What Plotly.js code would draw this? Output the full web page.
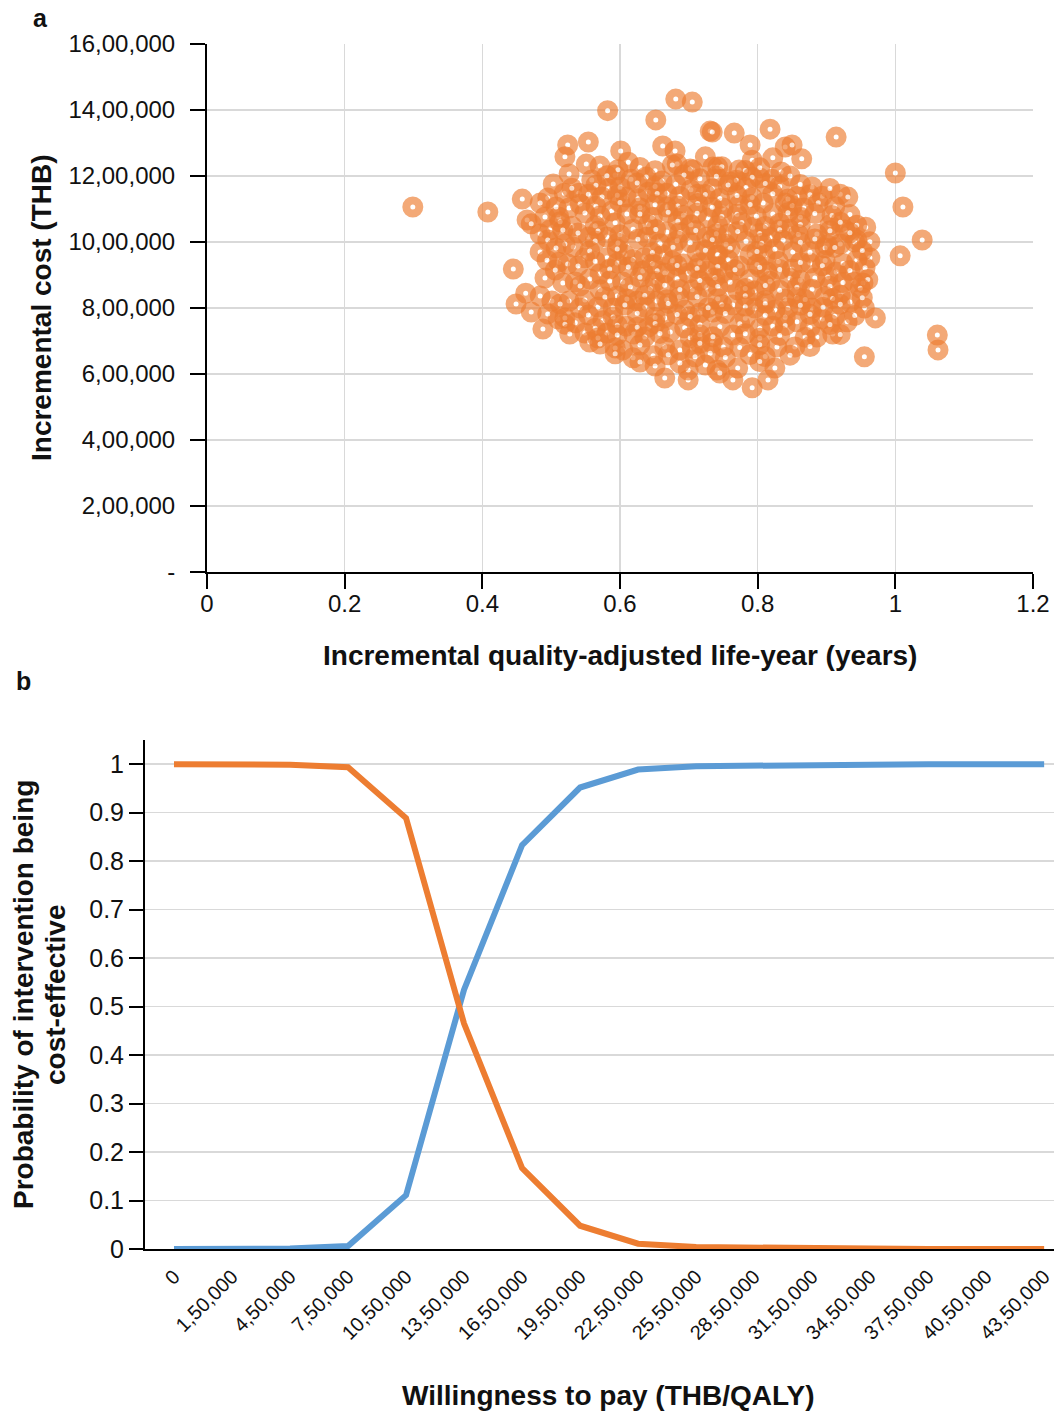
<!DOCTYPE html>
<html>
<head>
<meta charset="utf-8">
<script src="https://cdn.plot.ly/plotly-3.0.1.min.js"></script>
<style>
  html, body { margin: 0; padding: 0; background: #ffffff; }
  #chart { width: 1054px; height: 1414px; }
</style>
</head>
<body>
<div id="chart"></div>
<script>
// ---------- Panel a: cost-effectiveness plane ----------
const qalyTicks = [0, 0.2, 0.4, 0.6, 0.8, 1, 1.2];
const qalyTickText = ["0", "0.2", "0.4", "0.6", "0.8", "1", "1.2"];
const costTicks = [0, 200000, 400000, 600000, 800000, 1000000, 1200000, 1400000, 1600000];
const costTickText = ["-", "2,00,000", "4,00,000", "6,00,000", "8,00,000", "10,00,000", "12,00,000", "14,00,000", "16,00,000"];

// Incremental QALY (x) and incremental cost in THB (y)
const incQaly = [
  // upper-left edge and outliers
  0.299, 0.408, 0.458, 0.465, 0.471, 0.582, 0.681, 0.705, 0.652, 0.731,
  0.524, 0.554, 0.520, 0.551, 0.526, 0.601, 0.612, 0.593, 0.680, 0.662,
  0.683, 0.706, 0.724, 0.735, 0.519, 0.540, 0.526, 0.583, 0.609, 0.641,
  0.668, 0.668, 0.703, 0.713, 0.588, 0.610, 0.511, 0.530, 0.498, 0.554,
  0.581, 0.619, 0.668, 0.703, 0.728, 0.726, 0.639,
  // upper-right edge
  0.818, 0.766, 0.734, 0.789, 0.840, 0.850, 0.914, 0.822, 0.864, 0.792,
  0.742, 0.773, 1.000, 0.803, 0.760, 0.879, 0.857, 0.894, 0.920, 0.931,
  1.011, 0.840, 0.808, 0.773, 0.750, 0.867, 0.822, 0.905, 0.927, 0.957,
  0.886, 0.846, 0.793, 0.818, 0.757, 0.944, 1.039, 1.007, 0.901,
  // lower-left edge
  0.445, 0.463, 0.449, 0.471, 0.488, 0.501, 0.510, 0.526, 0.535, 0.511,
  0.517, 0.532, 0.549, 0.571, 0.581, 0.607, 0.635, 0.662, 0.692, 0.712,
  0.728, 0.741, 0.604, 0.633, 0.665, 0.699, 0.596, 0.568, 0.590, 0.625,
  0.654, 0.686, 0.705, 0.726, 0.575, 0.549, 0.556, 0.581, 0.609, 0.641,
  0.665, 0.673, 0.694, 0.716, 0.735, 0.620, 0.604, 0.648, 0.687, 0.705,
  0.734, 0.665, 0.699, 0.699, 0.741,
  // lower-right edge
  0.742, 0.789, 0.811, 0.851, 0.898, 0.941, 0.944, 0.963, 0.774, 0.814,
  0.850, 0.876, 0.914, 0.750, 0.883, 0.940, 0.953, 0.771, 0.795, 0.840,
  0.920, 0.934, 0.764, 0.796, 0.825, 0.879, 0.955, 0.894, 0.857, 0.822,
  0.930, 0.971, 0.764, 0.909, 0.886, 0.854, 0.828, 0.750, 1.061, 1.062,
  0.955, 0.771, 0.825, 0.745, 0.764, 0.815, 0.792,
  // dense core
  0.571, 0.597, 0.629, 0.651, 0.676, 0.702, 0.748, 0.782, 0.803, 0.834,
  0.559, 0.581, 0.616, 0.638, 0.661, 0.693, 0.716, 0.740, 0.769, 0.792, 0.821, 0.847,
  0.503, 0.530, 0.565, 0.600, 0.625, 0.651, 0.681, 0.734, 0.757, 0.783, 0.811, 0.832, 0.862, 0.905,
  0.495, 0.554, 0.574, 0.596, 0.626, 0.654, 0.687, 0.724, 0.745, 0.770, 0.792, 0.822, 0.844, 0.876,
  0.484, 0.507, 0.542, 0.565, 0.600, 0.629, 0.651, 0.684, 0.713, 0.734, 0.789, 0.850, 0.888, 0.912,
  0.491, 0.549, 0.571, 0.629, 0.647, 0.670, 0.692, 0.712, 0.748, 0.770, 0.798, 0.844, 0.862, 0.883, 0.908, 0.934,
  0.513, 0.564, 0.593, 0.641, 0.684, 0.742, 0.777, 0.811, 0.832, 0.862, 0.920, 0.944,
  0.484, 0.517, 0.539, 0.568, 0.600, 0.652, 0.687, 0.710, 0.740, 0.771, 0.803, 0.832, 0.859, 0.905, 0.934,
  0.495, 0.520, 0.564, 0.597, 0.626, 0.658, 0.683, 0.702, 0.734, 0.754, 0.783, 0.806, 0.837, 0.862, 0.883, 0.920, 0.963,
  0.484, 0.507, 0.556, 0.596, 0.647, 0.677, 0.724, 0.760, 0.799, 0.825, 0.876, 0.912, 0.952,
  0.494, 0.524, 0.564, 0.596, 0.619, 0.647, 0.676, 0.716, 0.757, 0.799, 0.830, 0.862, 0.898, 0.924,
  0.506, 0.539, 0.585, 0.612, 0.654, 0.683, 0.712, 0.742, 0.767, 0.803, 0.832, 0.894, 0.934, 0.956,
  0.491, 0.535, 0.556, 0.585, 0.629, 0.651, 0.683, 0.716, 0.738, 0.760, 0.789, 0.818, 0.847, 0.862, 0.902, 0.924, 0.960,
  0.542, 0.571, 0.615, 0.644, 0.665, 0.687, 0.742, 0.782, 0.811, 0.832, 0.857, 0.879, 0.905, 0.949,
  0.484, 0.549, 0.578, 0.610, 0.636, 0.668, 0.712, 0.742, 0.782, 0.811, 0.857, 0.869, 0.898, 0.909, 0.952,
  0.513, 0.542, 0.607, 0.636, 0.670, 0.728, 0.748, 0.782, 0.811, 0.844, 0.862, 0.895, 0.920,
  0.495, 0.520, 0.554, 0.590, 0.625, 0.651, 0.683, 0.702, 0.753, 0.782, 0.811, 0.840, 0.876, 0.912, 0.941,
  0.520, 0.564, 0.596, 0.625, 0.651, 0.694, 0.716, 0.745, 0.774, 0.803, 0.840, 0.876, 0.905,
  0.527, 0.568, 0.596, 0.636, 0.658, 0.702, 0.716, 0.735, 0.782, 0.803, 0.832, 0.869, 0.920,
  0.571, 0.593, 0.629, 0.665, 0.716, 0.774, 0.803, 0.876,
  0.593, 0.619, 0.670, 0.709, 0.731, 0.753, 0.789, 0.811, 0.847,
  0.629, 0.651, 0.687, 0.724, 0.803
];
const incCost = [
  // upper-left edge and outliers
  1106000, 1091000, 1130000, 1067000, 1055000, 1398000, 1433000, 1424000, 1370000, 1336000,
  1294000, 1303000, 1258000, 1236000, 1206000, 1276000, 1242000, 1203000, 1276000, 1291000,
  1236000, 1218000, 1258000, 1227000, 1148000, 1148000, 1103000, 1161000, 1136000, 1151000,
  1148000, 1106000, 1158000, 1145000, 1094000, 1085000, 1076000, 1048000, 1036000, 1015000,
  1015000, 1039000, 1030000, 1052000, 1073000, 1015000, 1015000,
  // upper-right edge
  1342000, 1330000, 1333000, 1294000, 1288000, 1294000, 1318000, 1255000, 1252000, 1248000,
  1227000, 1218000, 1209000, 1194000, 1182000, 1167000, 1139000, 1139000, 1145000, 1136000,
  1106000, 1118000, 1118000, 1112000, 1103000, 1103000, 1085000, 1052000, 1036000, 1045000,
  1024000, 1039000, 1045000, 1015000, 1024000, 1006000, 1006000, 958000, 991000,
  // lower-left edge
  918000, 845000, 812000, 788000, 736000, 821000, 767000, 821000, 755000, 939000,
  876000, 985000, 952000, 903000, 952000, 961000, 952000, 961000, 933000, 970000,
  912000, 961000, 879000, 912000, 906000, 906000, 836000, 803000, 800000, 821000,
  821000, 833000, 855000, 864000, 761000, 724000, 697000, 724000, 745000, 742000,
  770000, 727000, 794000, 785000, 788000, 721000, 673000, 655000, 673000, 679000,
  694000, 588000, 582000, 612000, 612000,
  // lower-right edge
  961000, 961000, 961000, 970000, 982000, 1000000, 945000, 952000, 927000, 909000,
  918000, 936000, 909000, 906000, 891000, 879000, 876000, 855000, 852000, 827000,
  839000, 818000, 809000, 800000, 794000, 800000, 800000, 767000, 758000, 745000,
  758000, 770000, 718000, 721000, 712000, 682000, 682000, 682000, 718000, 673000,
  652000, 618000, 618000, 603000, 582000, 582000, 558000,
  // dense core
  1230000, 1219000, 1226000, 1216000, 1233000, 1221000, 1228000, 1217000, 1225000, 1212000,
  1188000, 1201000, 1190000, 1197000, 1185000, 1203000, 1192000, 1199000, 1187000, 1196000, 1190000, 1200000,
  1176000, 1163000, 1172000, 1166000, 1179000, 1168000, 1175000, 1161000, 1173000, 1165000, 1177000, 1169000, 1174000, 1162000,
  1133000, 1145000, 1136000, 1142000, 1131000, 1147000, 1138000, 1144000, 1132000, 1141000, 1135000, 1146000, 1130000, 1143000,
  1118000, 1106000, 1115000, 1108000, 1120000, 1104000, 1113000, 1109000, 1117000, 1105000, 1114000, 1110000, 1119000, 1107000,
  1076000, 1088000, 1079000, 1085000, 1074000, 1090000, 1081000, 1087000, 1077000, 1084000, 1078000, 1089000, 1075000, 1086000, 1080000, 1083000,
  1061000, 1049000, 1058000, 1052000, 1063000, 1050000, 1059000, 1047000, 1057000, 1053000, 1060000, 1051000,
  1024000, 1036000, 1027000, 1033000, 1022000, 1038000, 1029000, 1035000, 1025000, 1032000, 1026000, 1037000, 1023000, 1034000, 1028000,
  1006000, 994000, 1003000, 997000, 1008000, 995000, 1004000, 998000, 1007000, 993000, 1002000, 996000, 1005000, 999000, 1009000, 994000, 1001000,
  970000, 982000, 973000, 979000, 968000, 984000, 975000, 981000, 971000, 978000, 969000, 983000, 974000,
  945000, 933000, 942000, 936000, 947000, 934000, 943000, 937000, 946000, 932000, 941000, 938000, 944000, 935000,
  915000, 927000, 918000, 924000, 913000, 929000, 920000, 926000, 916000, 923000, 917000, 928000, 914000, 922000,
  891000, 879000, 888000, 882000, 893000, 880000, 889000, 883000, 892000, 878000, 887000, 881000, 890000, 884000, 894000, 877000, 886000,
  867000, 855000, 864000, 858000, 869000, 856000, 865000, 859000, 868000, 854000, 863000, 857000, 866000, 860000,
  836000, 824000, 833000, 827000, 838000, 825000, 834000, 828000, 837000, 823000, 832000, 826000, 835000, 829000, 831000,
  812000, 800000, 809000, 803000, 814000, 801000, 810000, 804000, 813000, 799000, 808000, 802000, 811000,
  782000, 770000, 779000, 773000, 784000, 771000, 780000, 774000, 783000, 769000, 778000, 772000, 781000, 775000, 777000,
  751000, 739000, 748000, 742000, 753000, 740000, 749000, 743000, 752000, 738000, 747000, 741000, 750000,
  721000, 709000, 718000, 712000, 723000, 710000, 719000, 713000, 722000, 708000, 717000, 711000, 720000,
  691000, 679000, 688000, 682000, 693000, 680000, 689000, 683000,
  661000, 649000, 658000, 652000, 663000, 650000, 659000, 653000, 657000,
  636000, 624000, 633000, 627000, 638000
];

// ---------- Panel b: cost-effectiveness acceptability curves ----------
const wtpCategories = ["0", "1,50,000", "4,50,000", "7,50,000", "10,50,000", "13,50,000", "16,50,000", "19,50,000",
  "22,50,000", "25,50,000", "28,50,000", "31,50,000", "34,50,000", "37,50,000", "40,50,000", "43,50,000"];
const probIntervention = [0, 0, 0.001, 0.006, 0.111, 0.535, 0.833, 0.952, 0.989, 0.996, 0.998, 0.999, 0.999, 1, 1, 1];
const probComparator = [1, 1, 0.999, 0.994, 0.889, 0.465, 0.167, 0.048, 0.011, 0.004, 0.002, 0.001, 0.001, 0, 0, 0];
const probTicks = [0, 0.1, 0.2, 0.3, 0.4, 0.5, 0.6, 0.7, 0.8, 0.9, 1];
const probTickText = ["0", "0.1", "0.2", "0.3", "0.4", "0.5", "0.6", "0.7", "0.8", "0.9", "1"];

const W = 1054, H = 1414;
const FONT = "Liberation Sans, Arial, Helvetica, sans-serif";
const ORANGE = "#ED7D31", BLUE = "#5B9BD5", GRID = "#D9D9D9", INK = "#111111";

const traces = [
  {
    type: "scatter", mode: "markers", x: incQaly, y: incCost, xaxis: "x", yaxis: "y",
    marker: { symbol: "circle", size: 13, color: "#ffffff", opacity: 0.66,
              line: { color: ORANGE, width: 8 } },
    hoverinfo: "skip", showlegend: false
  },
  {
    type: "scatter", mode: "lines", x: wtpCategories, y: probIntervention, xaxis: "x2", yaxis: "y2",
    line: { color: BLUE, width: 6 }, showlegend: false, hoverinfo: "skip"
  },
  {
    type: "scatter", mode: "lines", x: wtpCategories, y: probComparator, xaxis: "x2", yaxis: "y2",
    line: { color: ORANGE, width: 6 }, showlegend: false, hoverinfo: "skip"
  }
];

function px(x) { return x / W; }
function py(y) { return 1 - y / H; }

function label(text, x, y, size, angle) {
  return { text: text, x: px(x), y: py(y), xref: "paper", yref: "paper", showarrow: false,
           xanchor: "center", yanchor: "middle", textangle: angle || 0,
           font: { size: size, family: FONT, color: INK } };
}

const layout = {
  width: W, height: H,
  margin: { l: 0, r: 0, t: 0, b: 0 },
  paper_bgcolor: "#ffffff", plot_bgcolor: "#ffffff",
  font: { family: FONT, color: INK, size: 20 },
  showlegend: false,
  xaxis: {
    domain: [px(207), px(1033)], anchor: "y",
    range: [0, 1.2], tickmode: "array", tickvals: qalyTicks, ticktext: qalyTickText,
    showgrid: true, gridcolor: GRID, gridwidth: 1.5, zeroline: false,
    showline: true, linecolor: "#000000", linewidth: 2,
    ticks: "outside", ticklen: 15, tickwidth: 2, tickcolor: "#000000",
    ticklabelstandoff: -6,
    tickfont: { size: 24, family: FONT, color: INK }
  },
  yaxis: {
    domain: [py(572), py(44)], anchor: "x",
    range: [0, 1600000], tickmode: "array", tickvals: costTicks, ticktext: costTickText,
    showgrid: true, gridcolor: GRID, gridwidth: 1.5, zeroline: false,
    showline: true, linecolor: "#000000", linewidth: 2,
    ticks: "outside", ticklen: 15, tickwidth: 2, tickcolor: "#000000",
    ticklabelstandoff: 10,
    tickfont: { size: 24, family: FONT, color: INK }
  },
  xaxis2: {
    domain: [px(145), 1], anchor: "y2", type: "category",
    range: [-0.5, 15.17],
    showgrid: false, zeroline: false,
    showline: true, linecolor: "#000000", linewidth: 2,
    ticks: "", tickangle: -45, ticklabelstandoff: 6,
    tickfont: { size: 20, family: FONT, color: INK },
    layer: "below traces"
  },
  yaxis2: {
    domain: [py(1249), py(740)], anchor: "x2",
    range: [0, 1.05], tickmode: "array", tickvals: probTicks, ticktext: probTickText,
    showgrid: true, gridcolor: GRID, gridwidth: 1.5, zeroline: false,
    showline: true, linecolor: "#000000", linewidth: 2,
    ticks: "outside", ticklen: 14, tickwidth: 2, tickcolor: "#000000",
    ticklabelstandoff: 0,
    tickfont: { size: 25, family: FONT, color: INK },
    layer: "below traces"
  },
  annotations: [
    label("<b>a</b>", 40, 18, 25),
    label("<b>b</b>", 23, 681, 25),
    label("<b>Incremental quality-adjusted life-year (years)</b>", 620, 655, 28),
    label("<b>Incremental cost (THB)</b>", 42, 308, 28, -90),
    label("<b>Willingness to pay (THB/QALY)</b>", 608, 1395, 28),
    label("<b>Probability of intervention being</b>", 23, 995, 28, -90),
    label("<b>cost-effective</b>", 55, 995, 28, -90)
  ]
};

Plotly.newPlot("chart", traces, layout, { displayModeBar: false, staticPlot: true });
</script>
</body>
</html>
